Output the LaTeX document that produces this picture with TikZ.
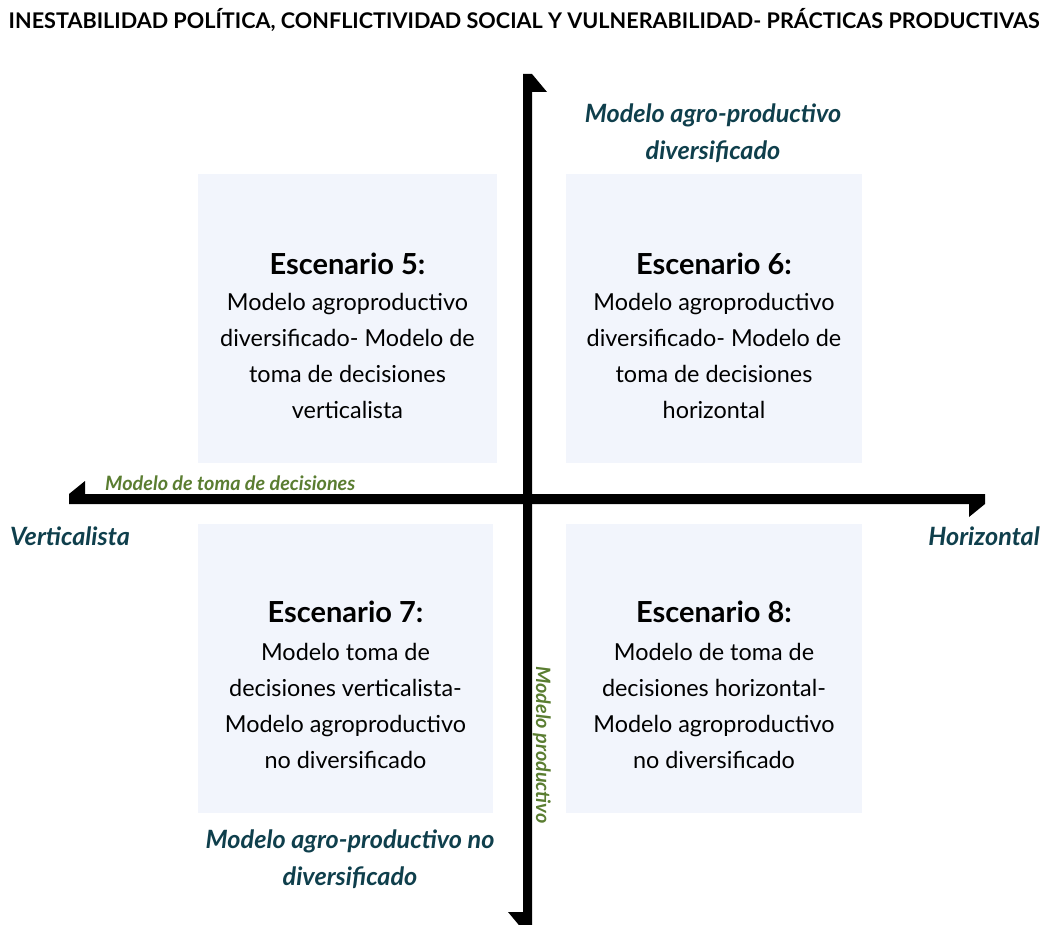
\documentclass[tikz,border=0pt]{standalone}
\usepackage{fontspec}
\setmainfont{Lato}
\usetikzlibrary{positioning}
\definecolor{poleteal}{HTML}{0F3F4C}
\definecolor{axisgreen}{HTML}{5A7D31}
\definecolor{scenfill}{HTML}{F2F5FC}

\begin{document}
\begin{tikzpicture}[x=1pt,y=-1pt,
  scenbox/.style={fill=scenfill, inner sep=0pt, minimum height=289pt},
  scentext/.style={align=center, inner sep=0pt, anchor=base, font=\fontsize{23.4}{36}\selectfont},
  polelabel/.style={align=center, inner sep=0pt, anchor=base, text=poleteal, font=\fontsize{25.2}{37}\selectfont\bfseries\itshape},
  axislabel/.style={inner sep=0pt, anchor=base, text=axisgreen, font=\fontsize{19.8}{22}\selectfont\bfseries\itshape}]

\useasboundingbox (0,0) rectangle (1050,925);

\node [anchor=base, inner sep=0pt, font=\fontsize{21.6}{26}\selectfont\bfseries] (title) at (524,29) {INESTABILIDAD POLÍTICA, CONFLICTIVIDAD SOCIAL Y VULNERABILIDAD- PRÁCTICAS PRODUCTIVAS};

% cuadrantes
\node [scenbox, minimum width=299pt] (box5) at (347.5,318.5) {};
\node [scenbox, minimum width=296pt] (box6) at (714,318.5) {};
\node [scenbox, minimum width=295pt] (box7) at (345.5,668.5) {};
\node [scenbox, minimum width=296pt] (box8) at (714,668.5) {};

% ejes
\fill (532,92) -- (532,930) -- (523,930) -- (508,912) -- (523,912) -- (523,74) -- (532,74) -- (547,92) -- cycle;
\fill (69,504) -- (69,494) -- (85,481) -- (85,494) -- (985,494) -- (985,504) -- (969,517) -- (969,504) -- cycle;

\node [scentext] (esc5) at (box5.center |- 0,418.5) {{\bfseries\fontsize{29}{34}\selectfont Escenario 5:}\\[0pt]Modelo agroproductivo\\diversificado- Modelo de\\toma de decisiones\\verticalista};
\node [scentext] (esc6) at (box6.center |- 0,418.5) {{\bfseries\fontsize{29}{34}\selectfont Escenario 6:}\\[0pt]Modelo agroproductivo\\diversificado- Modelo de\\toma de decisiones\\horizontal};
\node [scentext] (esc7) at (box7.center |- 0,768.5) {{\bfseries\fontsize{29}{34}\selectfont Escenario 7:}\\[2pt]Modelo toma de\\decisiones verticalista-\\Modelo agroproductivo\\no diversificado};
\node [scentext] (esc8) at (box8.center |- 0,768.5) {{\bfseries\fontsize{29}{34}\selectfont Escenario 8:}\\[2pt]Modelo de toma de\\decisiones horizontal-\\Modelo agroproductivo\\no diversificado};

\small
\node [polelabel] (diver) at (713,160) {Modelo agro-productivo\\diversificado};
\node [polelabel] (nodiver) at (350,885.5) {Modelo agro-productivo no\\diversificado};
\node [polelabel, anchor=base west] (vert) at (10,545) {Verticalista};
\node [polelabel, anchor=base east] (horiz) at (1040,545) {Horizontal};

\node [axislabel, anchor=base west] (decis) at (105,490) {Modelo de toma de decisiones};
\node [axislabel, anchor=base, rotate=-90] (produc) at (536,745) {Modelo productivo};
\end{tikzpicture}
\end{document}
